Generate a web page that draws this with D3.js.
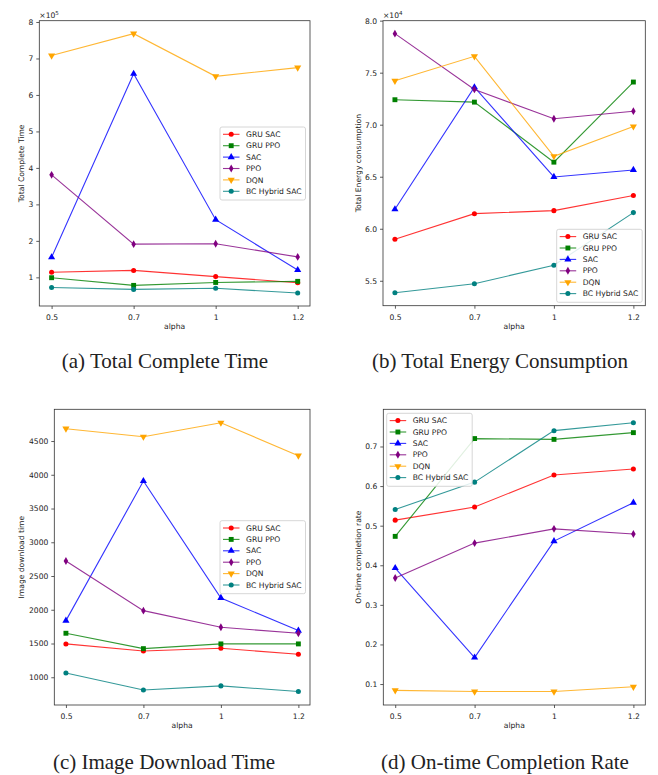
<!DOCTYPE html>
<html>
<head>
<meta charset="utf-8">
<script src="https://cdn.jsdelivr.net/npm/d3@7"></script>
<style>
  body { margin: 0; background: #fff; }
  svg text { font-family: "DejaVu Sans", sans-serif; fill: #222; }
</style>
</head>
<body>
<div id="chart"></div>
<script>
const width = 658
const height = 775

// x categories and methods
const alphas = ["0.5", "0.7", "1", "1.2"]
const methods = ["GRU SAC", "GRU PPO", "SAC", "PPO", "DQN", "BC Hybrid SAC"]
const colors = ["#ff0000", "#008000", "#0000ff", "#800080", "#ffa500", "#008080"]

// (a) total complete time, x1e5, one row per method
const completeTime = [
  [1.14, 1.19, 1.02, 0.85],
  [0.99, 0.78, 0.86, 0.89],
  [1.55, 6.58, 2.58, 1.20],
  [3.81, 1.91, 1.92, 1.56],
  [7.08, 7.68, 6.51, 6.75],
  [0.72, 0.67, 0.70, 0.57]
]
// (b) total energy consumption, x1e4
const energy = [
  [5.90, 6.145, 6.174, 6.32],
  [7.24, 7.217, 6.64, 7.41],
  [6.187, 7.36, 6.498, 6.565],
  [7.875, 7.339, 7.057, 7.13],
  [7.422, 7.657, 6.697, 6.983],
  [5.385, 5.471, 5.65, 6.155]
]
// (c) image download time
const downloadTime = [
  [1494, 1390, 1429, 1341],
  [1652, 1424, 1494, 1494],
  [1839, 3907, 2175, 1691],
  [2723, 1987, 1740, 1652],
  [4683, 4564, 4771, 4283],
  [1064, 812, 872, 788]
]
// (d) on-time completion rate
const onTimeRate = [
  [0.514, 0.547, 0.628, 0.643],
  [0.473, 0.720, 0.718, 0.735],
  [0.393, 0.167, 0.461, 0.558],
  [0.368, 0.456, 0.492, 0.479],
  [0.084, 0.081, 0.081, 0.093],
  [0.541, 0.610, 0.740, 0.760]
]

// tick labels
const ticksA = [1, 2, 3, 4, 5, 6, 7, 8]
const ticksB = [5.5, 6.0, 6.5, 7.0, 7.5, 8.0]
const ticksC = [1000, 1500, 2000, 2500, 3000, 3500, 4000, 4500]
const ticksD = [0.1, 0.2, 0.3, 0.4, 0.5, 0.6, 0.7]

const panels = [
  {data: completeTime, ticks: ticksA, fmt: d3.format("d"), exp: "5", ylabel: "Total Complete Time",
   box: {l: 39.3, r: 310, t: 20.7, b: 306}, ylabX: 21, leg: {x: 220, y: 127},
   caption: "(a) Total Complete Time", capX: 165, capY: 368},
  {data: energy, ticks: ticksB, fmt: d3.format(".1f"), exp: "4", ylabel: "Total Energy consumption",
   box: {l: 383, r: 645.3, t: 20.7, b: 305.7}, ylabX: 358, leg: {x: 556.7, y: 229.3},
   caption: "(b) Total Energy Consumption", capX: 500, capY: 368},
  {data: downloadTime, ticks: ticksC, fmt: d3.format("d"), exp: null, ylabel: "Image download time",
   box: {l: 54.3, r: 310, t: 409.3, b: 705}, ylabX: 21.5, leg: {x: 220, y: 520.7},
   caption: "(c) Image Download Time", capX: 164, capY: 769},
  {data: onTimeRate, ticks: ticksD, fmt: d3.format(".1f"), exp: null, ylabel: "On-time completion rate",
   box: {l: 383.3, r: 645.3, t: 409.3, b: 705}, ylabX: 358, leg: {x: 386.7, y: 413.3},
   caption: "(d) On-time Completion Rate", capX: 505, capY: 769}
]

const svg = d3.select("#chart").append("svg").attr("width", width).attr("height", height)

// marker shapes per method
function markerPath(i) {
  const shapes = [
    d3.symbol().type(d3.symbolCircle).size(20),
    d3.symbol().type(d3.symbolSquare).size(24),
    d3.symbol().type(d3.symbolTriangle).size(22),
    d3.symbol().type(d3.symbolDiamond).size(18),
    d3.symbol().type(d3.symbolTriangle).size(22),
    d3.symbol().type(d3.symbolCircle).size(20)
  ]
  return shapes[i]()
}
function markerRotate(i) { return i === 4 ? " rotate(180)" : "" }

function drawPanel(p) {
  const g = svg.append("g")
  const box = p.box
  const x = d3.scaleLinear().domain([-0.15, alphas.length - 1 + 0.15]).range([box.l, box.r])
  const all = p.data.flat()
  const [mn, mx] = d3.extent(all)
  const pad = (mx - mn) * 0.05
  const y = d3.scaleLinear().domain([mn - pad, mx + pad]).range([box.b, box.t])

  // axes
  const xAxis = d3.axisBottom(x).tickValues(d3.range(alphas.length)).tickFormat(i => alphas[i]).tickSizeOuter(0).tickSize(3)
  const yAxis = d3.axisLeft(y).tickValues(p.ticks).tickFormat(p.fmt).tickSizeOuter(0).tickSize(3)
  const xg = g.append("g").attr("transform", `translate(0, ${box.b})`).call(xAxis)
  const yg = g.append("g").attr("transform", `translate(${box.l}, 0)`).call(yAxis)
  ;[xg, yg].forEach(a => {
    a.select(".domain").remove()
    a.selectAll("line").attr("stroke", "#333").attr("stroke-width", 0.8)
    a.selectAll("text").style("font-size", "7.6px").attr("fill", "#222")
  })
  xg.selectAll("text").attr("dy", "1.05em")

  // series
  const line = d3.line().x((d, i) => x(i)).y(d => y(d))
  p.data.forEach((vals, k) => {
    g.append("path").datum(vals)
      .attr("d", line)
      .attr("fill", "none")
      .attr("stroke", colors[k])
      .attr("stroke-opacity", 0.8)
      .attr("stroke-width", 1.1)
    g.selectAll(null).data(vals).enter().append("path")
      .attr("d", markerPath(k))
      .attr("transform", (d, i) => `translate(${x(i)}, ${y(d)})${markerRotate(k)}`)
      .attr("fill", colors[k])
  })

  // frame
  g.append("rect").attr("x", box.l).attr("y", box.t)
    .attr("width", box.r - box.l).attr("height", box.b - box.t)
    .attr("fill", "none").attr("stroke", "#333").attr("stroke-width", 0.8)

  // labels
  g.append("text").attr("x", (box.l + box.r) / 2).attr("y", box.b + 23)
    .attr("text-anchor", "middle").style("font-size", "7.6px").text("alpha")
  g.append("text").attr("transform", `translate(${p.ylabX}, ${(box.t + box.b) / 2}) rotate(-90)`)
    .attr("text-anchor", "middle").attr("dy", "0.35em").style("font-size", "7.6px").text(p.ylabel)
  if (p.exp) {
    const t = g.append("text").attr("x", box.l).attr("y", box.t - 3).style("font-size", "7.6px")
    t.append("tspan").text("×10")
    t.append("tspan").attr("dy", -3).style("font-size", "5.5px").text(p.exp)
  }

  // legend
  const lg = g.append("g").attr("transform", `translate(${p.leg.x}, ${p.leg.y})`)
  lg.append("rect").attr("width", 85.5).attr("height", 73).attr("rx", 2)
    .attr("fill", "#fff").attr("fill-opacity", 0.85).attr("stroke", "#ccc").attr("stroke-width", 0.8)
  methods.forEach((m, k) => {
    const row = lg.append("g").attr("transform", `translate(0, ${7.3 + k * 11.4})`)
    row.append("line").attr("x1", 3).attr("x2", 19.5).attr("y1", 0).attr("y2", 0)
      .attr("stroke", colors[k]).attr("stroke-opacity", 0.8).attr("stroke-width", 1.1)
    row.append("path").attr("d", markerPath(k)).attr("transform", `translate(11.2, 0)${markerRotate(k)}`)
      .attr("fill", colors[k])
    row.append("text").attr("x", 26).attr("dy", "0.35em").style("font-size", "7.6px").text(m)
  })

  // caption
  svg.append("text").attr("x", p.capX).attr("y", p.capY).attr("text-anchor", "middle")
    .style("font-family", "'Liberation Serif', 'Times New Roman', serif").style("font-size", "21px")
    .attr("fill", "#111").text(p.caption)
}

panels.forEach(drawPanel)
</script>
</body>
</html>
